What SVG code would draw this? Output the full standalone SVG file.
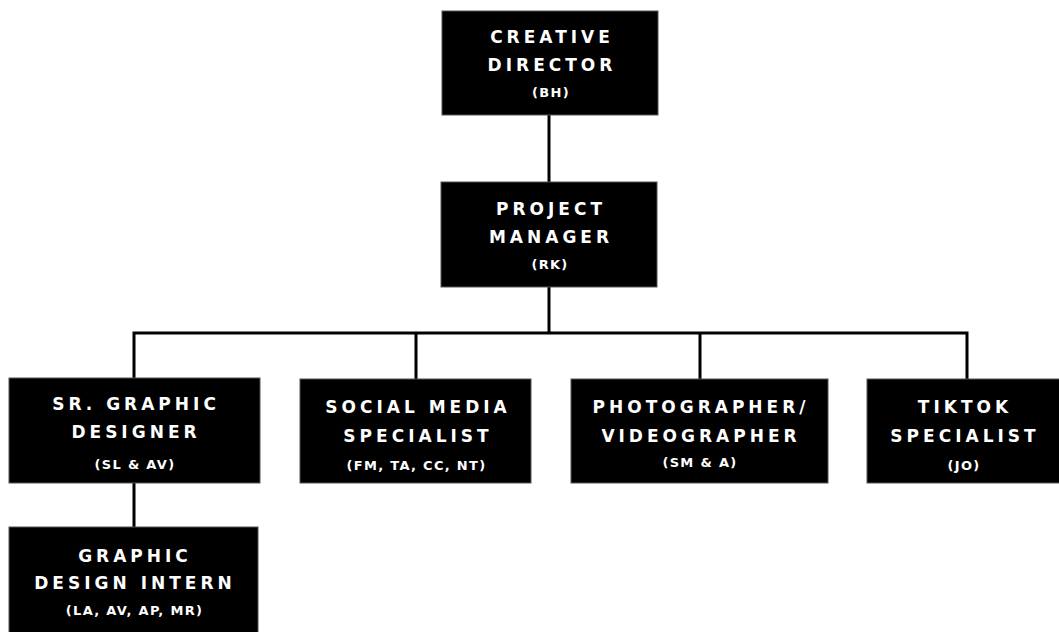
<svg xmlns="http://www.w3.org/2000/svg" width="1059" height="632" viewBox="0 0 1059 632">
<style>
.box{fill:#000;stroke:#555;stroke-width:1}
.t{font-family:"DejaVu Sans","Liberation Sans",sans-serif;font-weight:700;font-size:17px;letter-spacing:4px;fill:#fff;text-anchor:middle}
.s{font-family:"DejaVu Sans","Liberation Sans",sans-serif;font-weight:700;font-size:13px;letter-spacing:1.3px;fill:#fff;text-anchor:middle}
.c{stroke:#000;stroke-width:3;fill:none}
</style>
<rect width="1059" height="632" fill="#fff"/>
<g id="connectors">
<line class="c" x1="549" y1="115" x2="549" y2="182"/>
<path class="c" d="M549 287 V333 M134 379 V333 H967 V379 M416 333 V379 M700 333 V379 M134 483 V527"/>
</g>
<g id="creative-director">
<rect class="box" x="442" y="11" width="216" height="104"/>
<text class="t" x="552" y="43">CREATIVE</text>
<text class="t" x="552" y="71">DIRECTOR</text>
<text class="s" x="551" y="97">(BH)</text>
</g>
<g id="project-manager">
<rect class="box" x="441" y="182" width="216" height="105"/>
<text class="t" x="551" y="215">PROJECT</text>
<text class="t" x="551" y="243">MANAGER</text>
<text class="s" x="550" y="269">(RK)</text>
</g>
<g id="sr-graphic-designer">
<rect class="box" x="9" y="378" width="251" height="105"/>
<text class="t" x="136" y="410">SR. GRAPHIC</text>
<text class="t" x="136" y="438">DESIGNER</text>
<text class="s" x="135" y="469">(SL &amp; AV)</text>
</g>
<g id="graphic-design-intern">
<rect class="box" x="9" y="527" width="249" height="106"/>
<text class="t" x="135" y="562">GRAPHIC</text>
<text class="t" x="135" y="589">DESIGN INTERN</text>
<text class="s" x="134.5" y="615">(LA, AV, AP, MR)</text>
</g>
<g id="social-media-specialist">
<rect class="box" x="300" y="379" width="231" height="104"/>
<text class="t" x="418" y="413">SOCIAL MEDIA</text>
<text class="t" x="418" y="442">SPECIALIST</text>
<text class="s" x="416.5" y="470">(FM, TA, CC, NT)</text>
</g>
<g id="photographer-videographer">
<rect class="box" x="571" y="379" width="257" height="104"/>
<text class="t" x="701" y="413">PHOTOGRAPHER/</text>
<text class="t" x="701" y="442">VIDEOGRAPHER</text>
<text class="s" x="700" y="467">(SM &amp; A)</text>
</g>
<g id="tiktok-specialist">
<rect class="box" x="867" y="379" width="200" height="104"/>
<text class="t" x="965" y="413">TIKTOK</text>
<text class="t" x="965" y="442">SPECIALIST</text>
<text class="s" x="964" y="470">(JO)</text>
</g>
</svg>
